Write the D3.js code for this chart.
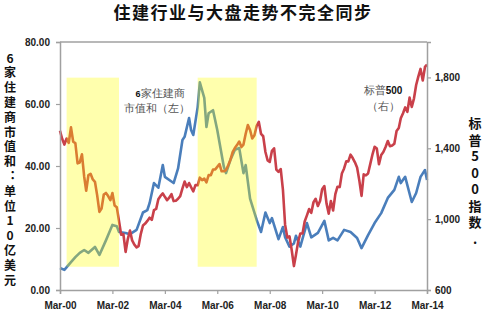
<!DOCTYPE html>
<html>
<head>
<meta charset="utf-8">
<script src="https://cdn.jsdelivr.net/npm/d3@7"></script>
<style>
	body { margin: 0; background: #fff; }
	svg text { font-family: "Liberation Sans", Arial, sans-serif; }
	.cjk { font-family: "Noto Sans CJK SC", sans-serif !important; }
	.vertical { writing-mode: vertical-rl; text-orientation: upright; }
</style>
</head>
<body>
<div id="chart"></div>
<script>

//S&P 500 month-end values, one per month starting Mar 2000
var sp500_start = "2000-03";
var sp500_values = [
	1499, 1452, 1421, 1455, 1431, 1518, 1437, 1429, 1315, 1320,
	1366, 1240, 1160, 1249, 1256, 1224, 1211, 1134, 1041, 1060, 1139, 1148,
	1130, 1107, 1147, 1077, 1067, 990, 912, 916, 815, 886, 936, 880,
	856, 841, 848, 917, 964, 975, 990, 1008, 996, 1051, 1058, 1112,
	1131, 1145, 1126, 1107, 1121, 1141, 1102, 1104, 1115, 1130, 1174, 1212,
	1181, 1204, 1181, 1157, 1192, 1191, 1234, 1220, 1229, 1207, 1249, 1248,
	1280, 1281, 1295, 1311, 1270, 1270, 1277, 1304, 1336, 1378, 1401, 1418,
	1438, 1407, 1421, 1482, 1531, 1503, 1455, 1474, 1527, 1549, 1481, 1468,
	1379, 1331, 1323, 1386, 1400, 1280, 1267, 1283, 1165, 969, 896, 903,
	826, 735, 798, 873, 919, 919, 987, 1021, 1057, 1036, 1096, 1115,
	1074, 1104, 1169, 1187, 1089, 1031, 1102, 1049, 1141, 1183, 1181, 1258,
	1286, 1327, 1326, 1364, 1345, 1321, 1292, 1219, 1131, 1253, 1247, 1258,
	1312, 1366, 1408, 1398, 1310, 1362, 1379, 1407, 1441, 1412, 1416, 1426,
	1498, 1515, 1569, 1598, 1631, 1606, 1686, 1633, 1682, 1757, 1806, 1848,
	1783, 1859, 1872
];

//market cap of 6 homebuilders, USD 10bn
var builders_dates = [
	"2000-03", "2000-05", "2000-08", "2000-10", "2000-12", "2001-02", "2001-04", "2001-07", "2001-09", "2001-12",
	"2002-02", "2002-03", "2002-05", "2002-06", "2002-09", "2002-11", "2003-02", "2003-05", "2003-07", "2003-08",
	"2003-10", "2003-12", "2004-02", "2004-03", "2004-06", "2004-07", "2004-09", "2004-11", "2004-12", "2005-02",
	"2005-03", "2005-04", "2005-06", "2005-07", "2005-09", "2005-10", "2005-11", "2006-01", "2006-03", "2006-06",
	"2006-07", "2006-09", "2006-11", "2007-01", "2007-03", "2007-04", "2007-06", "2007-09", "2007-11", "2008-01",
	"2008-03", "2008-04", "2008-07", "2008-09", "2008-10", "2008-12", "2009-02", "2009-03", "2009-05", "2009-08",
	"2009-10", "2010-01", "2010-04", "2010-06", "2010-08", "2010-10", "2011-01", "2011-04", "2011-07", "2011-09",
	"2011-12", "2012-03", "2012-06", "2012-09", "2012-12", "2013-02", "2013-03", "2013-05", "2013-08", "2013-10",
	"2013-12", "2014-02", "2014-03"
];
var builders_values = [
	7.1, 6.5, 9.0, 10.6, 12.0, 12.9, 12.0, 13.9, 11.3, 16.0,
	19.4, 21.0, 20.6, 18.7, 18.4, 18.0, 19.4, 25.0, 25.8, 28.0,
	34.5, 33.0, 40.3, 36.5, 35.0, 34.5, 39.2, 48.4, 49.4, 55.5,
	51.6, 50.0, 59.0, 67.0, 62.0, 52.6, 57.0, 58.0, 51.6, 39.7,
	37.7, 42.0, 45.2, 45.8, 37.7, 40.3, 29.5, 22.6, 18.7, 25.0,
	21.6, 23.2, 16.4, 20.3, 17.0, 14.0, 15.0, 17.5, 14.0, 21.6,
	17.0, 18.4, 22.3, 16.0, 16.8, 16.0, 19.4, 18.7, 16.8, 13.5,
	17.7, 21.6, 24.8, 29.7, 32.3, 36.5, 34.5, 36.5, 28.4, 31.3,
	36.5, 38.7, 35.5
];

//shaded periods where the two lines move apart
var band_starts = ["2000-06", "2005-06"];
var band_ends = ["2002-06", "2007-09"];
var band_low = 7.5, band_high = 68.5;

var left_ticks = [0, 20, 40, 60, 80];
var right_ticks = [600, 1000, 1400, 1800];
var x_tick_years = [2000, 2002, 2004, 2006, 2008, 2010, 2012, 2014];

var title_text = "住建行业与大盘走势不完全同步";
var left_title = "6家住建商市值和：单位10亿美元";
var right_title = "标普500指数.";

var parseMonth = d3.timeParse("%Y-%m");

var width = 500, height = 330;
var margin = {top: 42, right: 73, bottom: 40, left: 60};

var svg = d3.select("#chart").append("svg")
	.attr("width", width)
	.attr("height", height);

var x = d3.scaleTime()
	.domain([parseMonth("2000-03"), parseMonth("2014-03")])
	.range([margin.left, width - margin.right]);

var yLeft = d3.scaleLinear()
	.domain([0, 80])
	.range([height - margin.bottom, margin.top]);

var yRight = d3.scaleLinear()
	.domain([600, 2000])
	.range([height - margin.bottom, margin.top]);

var sp500 = sp500_values.map(function(v, i)
{
	return {date: d3.timeMonth.offset(parseMonth(sp500_start), i), value: v};
});

var builders = builders_dates.map(function(d, i)
{
	return {date: parseMonth(d), value: builders_values[i]};
});

//lines
var lineLeft = d3.line()
	.x(function(d){ return x(d.date); })
	.y(function(d){ return yLeft(d.value); });

var lineRight = d3.line()
	.x(function(d){ return x(d.date); })
	.y(function(d){ return yRight(d.value); });

svg.append("path")
	.datum(builders)
	.attr("fill", "none")
	.attr("stroke", "#4a7ebb")
	.attr("stroke-width", 2.6)
	.attr("stroke-linejoin", "round")
	.attr("d", lineLeft);

svg.append("path")
	.datum(sp500)
	.attr("fill", "none")
	.attr("stroke", "#c9404a")
	.attr("stroke-width", 2.6)
	.attr("stroke-linejoin", "round")
	.attr("d", lineRight);

//see-through yellow bands over the lines (lines turn green / orange underneath)
svg.append("g")
	.selectAll("rect")
	.data(band_starts)
	.enter()
		.append("rect")
			.attr("x", function(d){ return x(parseMonth(d)); })
			.attr("width", function(d, i){ return x(parseMonth(band_ends[i])) - x(parseMonth(d)); })
			.attr("y", yLeft(band_high))
			.attr("height", yLeft(band_low) - yLeft(band_high))
			.attr("fill", "#ffff00")
			.attr("fill-opacity", 0.32);

//axes
var axisColor = "#a0a0a0";

function styleAxis(g)
{
	g.select(".domain").attr("stroke", axisColor).attr("stroke-width", 1.5);
	g.selectAll(".tick line").attr("stroke", axisColor).attr("stroke-width", 1.2);
	g.selectAll(".tick text")
		.attr("fill", "#222")
		.attr("font-size", "10px")
		.attr("font-weight", "bold");
}

svg.append("g")
	.attr("transform", "translate(" + margin.left + ",0)")
	.call(d3.axisLeft(yLeft).tickValues(left_ticks).tickFormat(d3.format(".2f")).tickSizeOuter(0).tickSize(4).tickPadding(6))
	.call(styleAxis);

svg.append("g")
	.attr("transform", "translate(" + (width - margin.right) + ",0)")
	.call(d3.axisRight(yRight).tickValues(right_ticks).tickFormat(d3.format(",")).tickSizeOuter(0).tickSize(4).tickPadding(4))
	.call(styleAxis);

svg.append("g")
	.attr("transform", "translate(0," + (height - margin.bottom) + ")")
	.call(d3.axisBottom(x)
		.tickValues(x_tick_years.map(function(y){ return new Date(y, 2, 1); }))
		.tickFormat(d3.timeFormat("%b-%y"))
		.tickSizeOuter(0).tickSize(4).tickPadding(8))
	.call(styleAxis);

//top border of the plot
svg.append("line")
	.attr("x1", margin.left)
	.attr("x2", width - margin.right)
	.attr("y1", margin.top)
	.attr("y2", margin.top)
	.attr("stroke", axisColor)
	.attr("stroke-width", 1.5);

//title
svg.append("text")
	.attr("class", "cjk")
	.attr("x", 243)
	.attr("y", 19)
	.attr("text-anchor", "middle")
	.attr("font-size", "17px")
	.attr("font-weight", "bold")
	.attr("letter-spacing", "1.5px")
	.attr("fill", "#111")
	.text(title_text);

//vertical axis titles, one glyph per line
svg.append("text")
	.attr("class", "cjk vertical")
	.attr("x", 10)
	.attr("y", 52)
	.attr("font-size", "12px")
	.attr("font-weight", "bold")
	.attr("letter-spacing", "2.8px")
	.attr("fill", "#111")
	.text(left_title);

svg.append("text")
	.attr("class", "cjk vertical")
	.attr("x", 475)
	.attr("y", 117)
	.attr("font-size", "13px")
	.attr("font-weight", "bold")
	.attr("letter-spacing", "3.5px")
	.attr("fill", "#111")
	.text(right_title);

//line labels
var note = svg.append("g")
	.attr("class", "cjk")
	.attr("font-size", "11px")
	.attr("fill", "#555")
	.attr("text-anchor", "middle");

var n1 = note.append("text").attr("x", 160).attr("y", 97);
n1.append("tspan").attr("font-weight", "bold").attr("fill", "#111").attr("font-size", "9px").text("6");
n1.append("tspan").text("家住建商");
note.append("text").attr("x", 157).attr("y", 112).text("市值和（左）");

var n2 = note.append("text").attr("x", 383).attr("y", 94);
n2.append("tspan").text("标普");
n2.append("tspan").attr("font-weight", "bold").attr("fill", "#111").attr("font-size", "10px").text("500");
note.append("text").attr("x", 383).attr("y", 110).text("（右）");

</script>
</body>
</html>
